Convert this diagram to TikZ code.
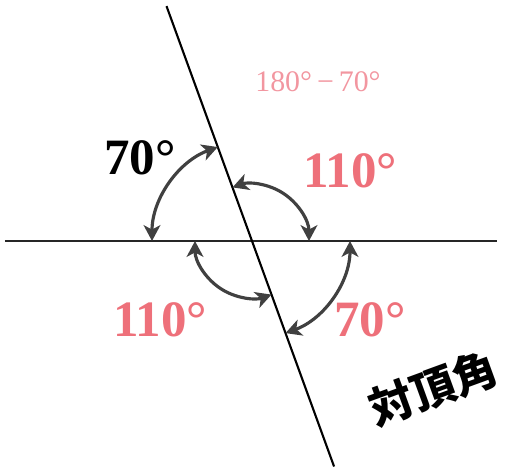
\documentclass[tikz,border=0pt]{standalone}
\usepackage{fontspec}
\setmainfont{Liberation Serif}
\newfontfamily\jpfont{Noto Sans CJK JP}
\usetikzlibrary{arrows.meta, calc}
\definecolor{anglepink}{RGB}{238,112,122}
\definecolor{lightpink}{RGB}{242,150,160}
\definecolor{arcgray}{RGB}{64,64,64}

\begin{document}
\begin{tikzpicture}[x=0.02cm, y=0.02cm,
  angarc/.style={arcgray, line width=1.8pt, {Stealth[length=9pt,width=9.5pt,inset=2.5pt]}-{Stealth[length=9pt,width=9.5pt,inset=2.5pt]}},
  biglabel/.style={font=\fontsize{29}{29}\selectfont\bfseries, inner sep=0pt}]
  \useasboundingbox (0,0) rectangle (505,471);
  \coordinate (O) at (252,230);
  \coordinate (hl) at (5,230);
  \coordinate (hr) at (497,230);
  \coordinate (st) at ($(O)+(110:250)$);
  \coordinate (sb) at ($(O)+(290:240)$);
  \draw[line width=1.1pt, black!85] (hl) -- (hr);
  \draw[line width=1.2pt] (st) -- (sb);
  \draw[angarc] (O) ++(110:100) arc[start angle=110, end angle=180, radius=100];
  \draw[angarc] (O) ++(0:57) arc[start angle=0, end angle=110, radius=57];
  \draw[angarc] (O) ++(180:57) arc[start angle=180, end angle=290, radius=57];
  \draw[angarc] (O) ++(290:98) arc[start angle=290, end angle=360, radius=98];
  \node[biglabel] (a70) at (140,313) {70°};
  \node[biglabel, text=anglepink] (a110) at (350,300) {110°};
  \node[biglabel, text=anglepink] (b110) at (160,151) {110°};
  \node[biglabel, text=anglepink] (b70) at (370,151) {70°};
  \node[font=\fontsize{17}{17}\selectfont, text=lightpink, inner sep=0pt] (diff) at (318,389) {180°\,−\,70°};
  \node[font=\jpfont\fontsize{25}{25}\selectfont\bfseries, rotate=20, inner sep=0pt] (name) at (433,83) {対頂角};
\end{tikzpicture}
\end{document}
